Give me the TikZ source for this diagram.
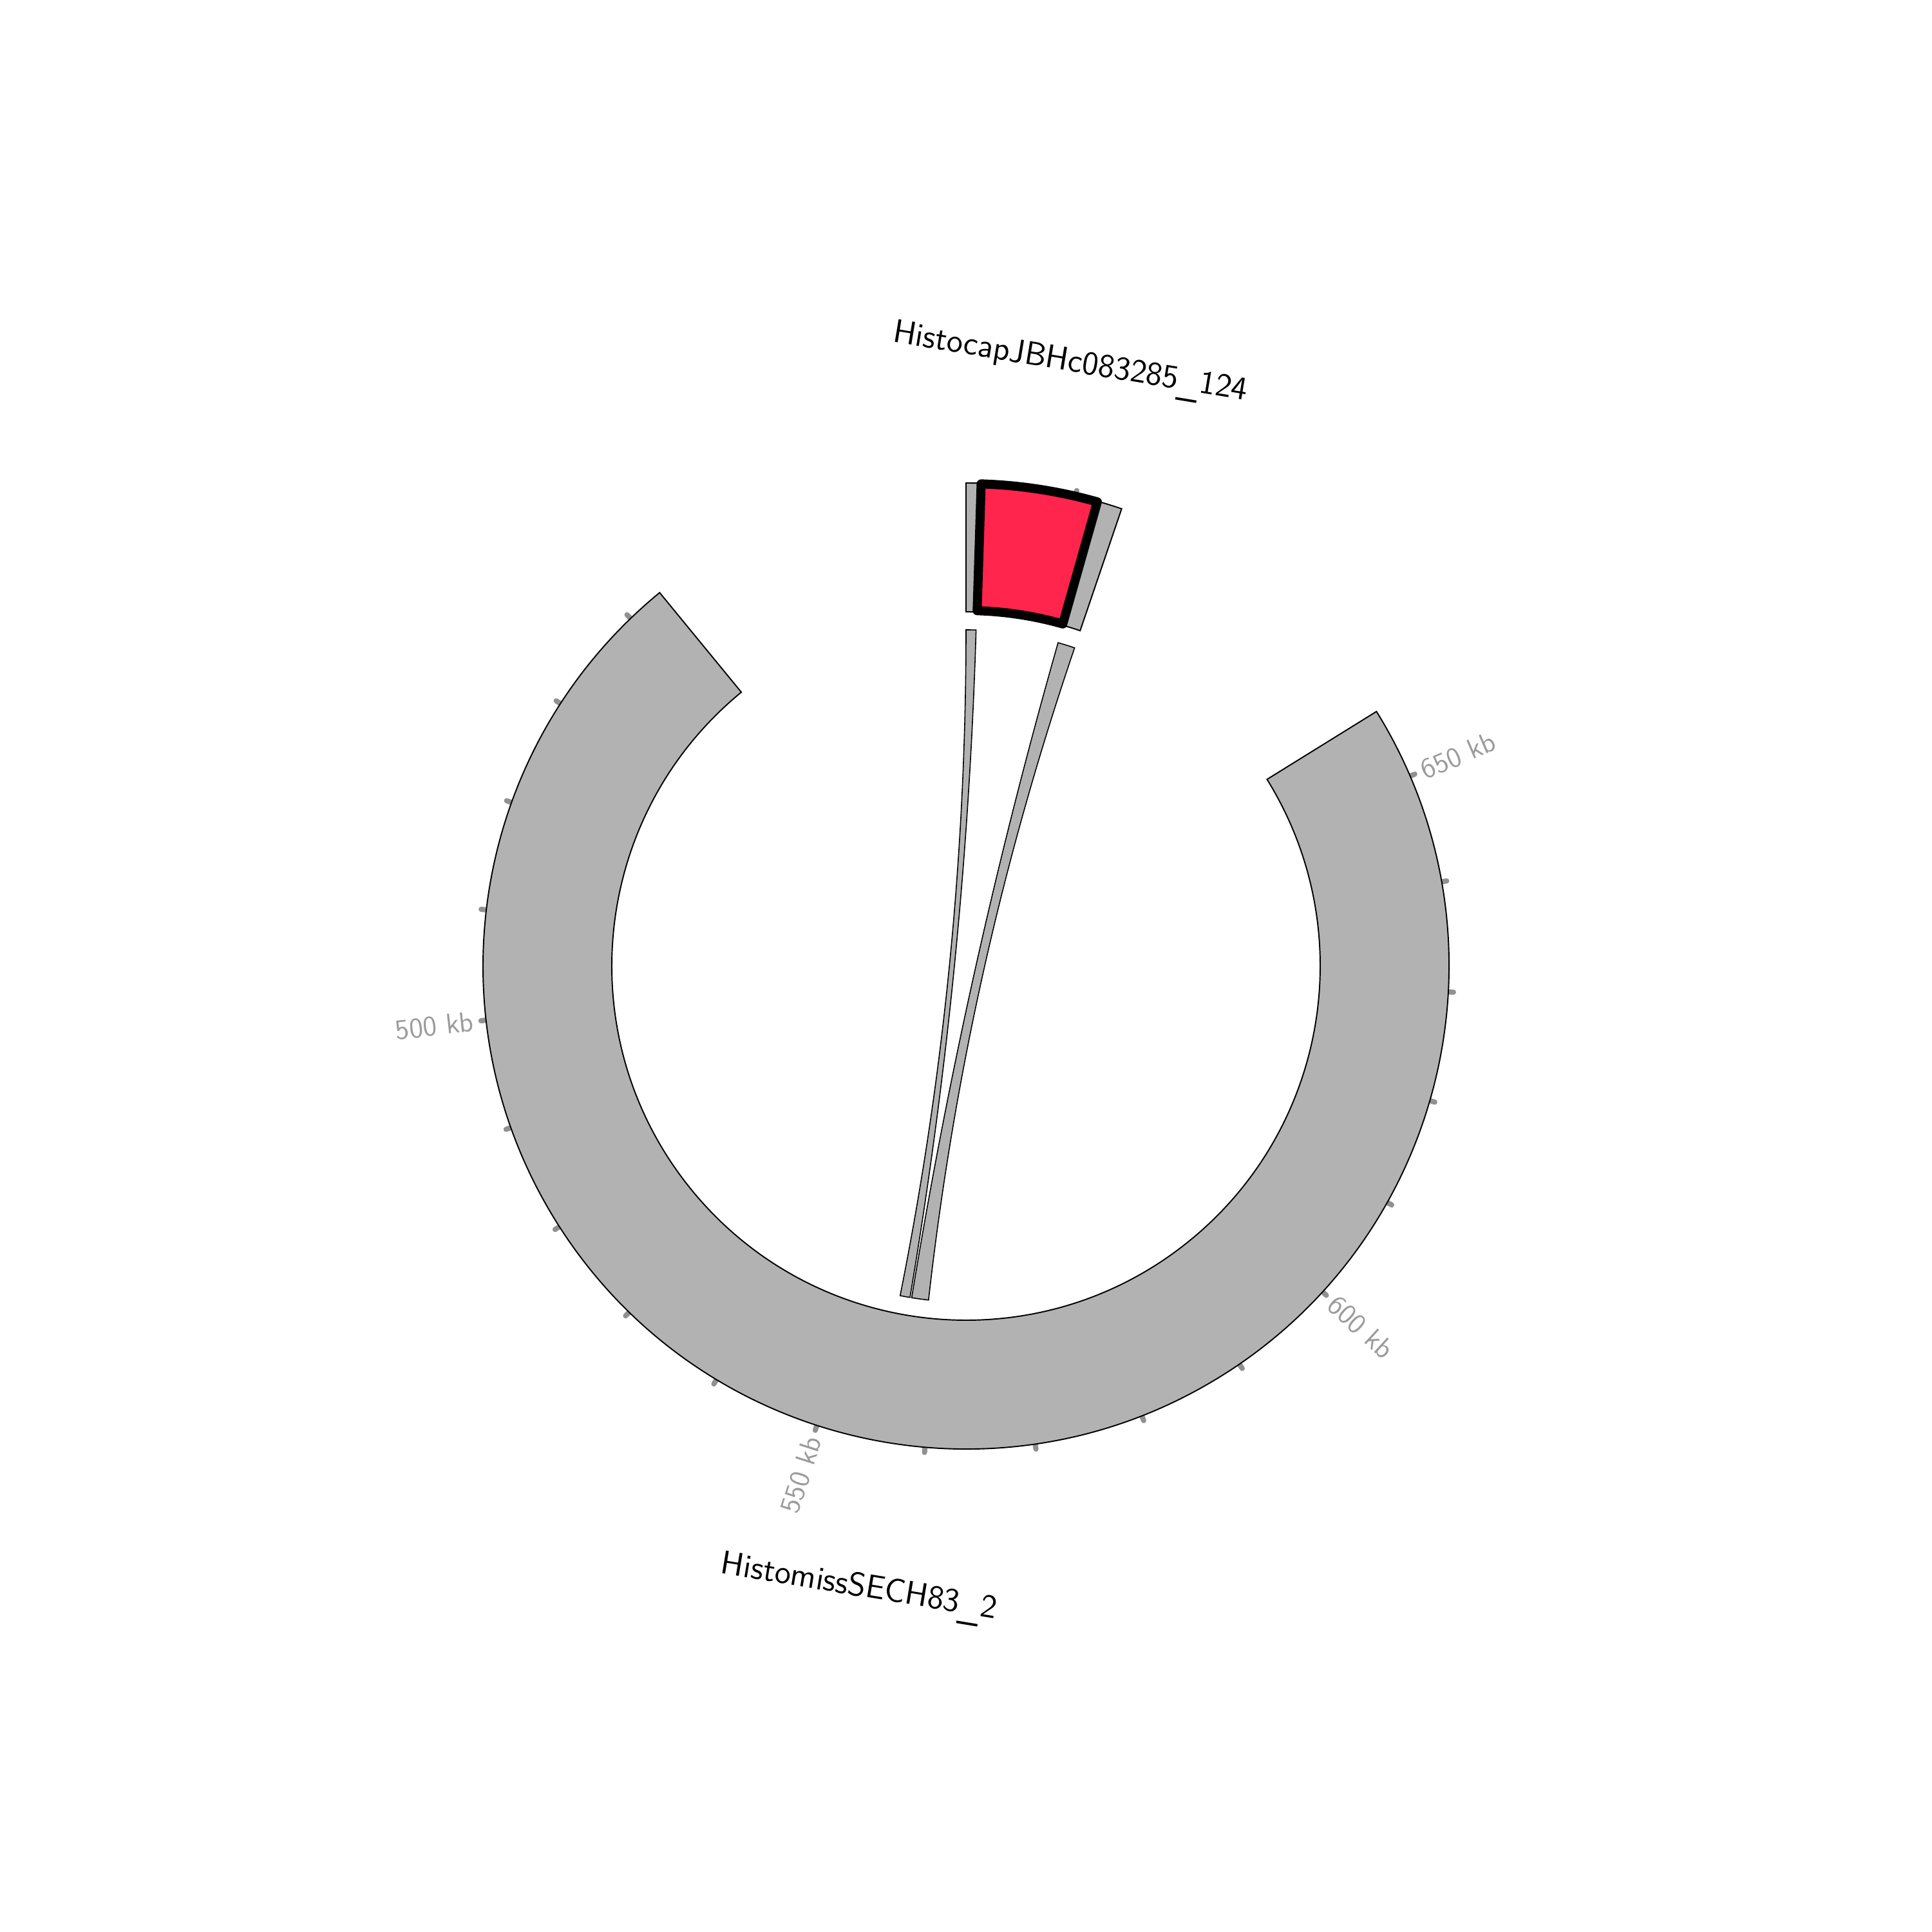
\documentclass[tikz,border=0pt]{standalone}
\usepackage{fontspec}
\definecolor{ringgray}{RGB}{178,178,178}
\definecolor{hred}{RGB}{255,37,77}
\definecolor{tickgray}{RGB}{145,145,145}
\definecolor{lblgray}{RGB}{155,155,155}
\newcommand{\lowus}{\raisebox{-0.18em}{\_}}
\begin{document}
\begin{tikzpicture}
\useasboundingbox (-15,-15) rectangle (15,15);
\tikzset{
 ideo/.style={fill=ringgray, draw=black, line width=0.55pt, line join=miter},
 linkband/.style={fill=ringgray, draw=black, line width=0.45pt},
 hilite/.style={fill=hred, draw=black, line width=4pt, line join=round},
 tickmark/.style={draw=tickgray, line width=2.3pt, line cap=round},
 ticklabel/.style={text=lblgray, font=\sffamily\fontsize{12.5}{14}\selectfont, inner sep=0pt},
 chromlabel/.style={text=black, font=\sffamily\fontsize{14.6}{16}\selectfont, inner sep=0pt}
}
% ticks
\foreach \k in {0,...,19} {
  \pgfmathsetmacro\ang{23.15-13.114*\k}
  \draw[tickmark] (\ang:7.45) -- (\ang:7.58);
}
\draw[tickmark] (76.89:7.45) -- (76.89:7.58);
% big chromosome
\draw[ideo] (31.8:7.5) arc[start angle=31.8, end angle=-230.63, radius=7.5]
  -- (-230.63:5.5) arc[start angle=-230.63, end angle=31.8, radius=5.5] -- cycle;
% top chromosome
\draw[ideo] (90:7.5) arc[start angle=90, end angle=71.2, radius=7.5]
  -- (71.2:5.5) arc[start angle=71.2, end angle=90, radius=5.5] -- cycle;
% highlight
\draw[hilite] (88.2:7.49) arc[start angle=88.2, end angle=74.2, radius=7.49]
  -- (74.2:5.52) arc[start angle=74.2, end angle=88.2, radius=5.52] -- cycle;
% link ends
\coordinate (l1a) at (90:5.22);
\coordinate (l1b) at (-99.6:5.22);
\coordinate (l2a) at (74.1:5.22);
\coordinate (l2b) at (-96.4:5.22);
% links
\draw[linkband] (l1a) arc[start angle=90, end angle=88.28, radius=5.22]
  .. controls (88.28:1.74) and (-99.6:1.74) .. (l1b)
  arc[start angle=-99.6, end angle=-101.3, radius=5.22]
  .. controls (-101.3:1.74) and (90:1.74) .. cycle;
\draw[linkband] (l2a) arc[start angle=74.1, end angle=71.15, radius=5.22]
  .. controls (71.15:1.74) and (-96.4:1.74) .. (l2b)
  arc[start angle=-96.4, end angle=-99.3, radius=5.22]
  .. controls (-99.3:1.74) and (74.1:1.74) .. cycle;
% tick labels
\node[ticklabel, anchor=west, rotate=23.15] (t650) at (23.15:7.69) {650 kb};
\node[ticklabel, anchor=west, rotate=-42.42] (t600) at (-42.42:7.69) {600 kb};
\node[ticklabel, anchor=east, rotate=72.01] (t550) at (-107.99:7.69) {550 kb};
\node[ticklabel, anchor=east, rotate=6.44] (t500) at (-173.56:7.69) {500 kb};
% chromosome labels
\node[chromlabel, anchor=base, rotate=-9.4] (topname) at (1.60,9.24) {HistocapJBHc083285\lowus124};
\node[chromlabel, anchor=base, rotate=-9.4] (botname) at (-1.685,-9.78) {HistomissSECH83\lowus2};
\end{tikzpicture}
\end{document}
